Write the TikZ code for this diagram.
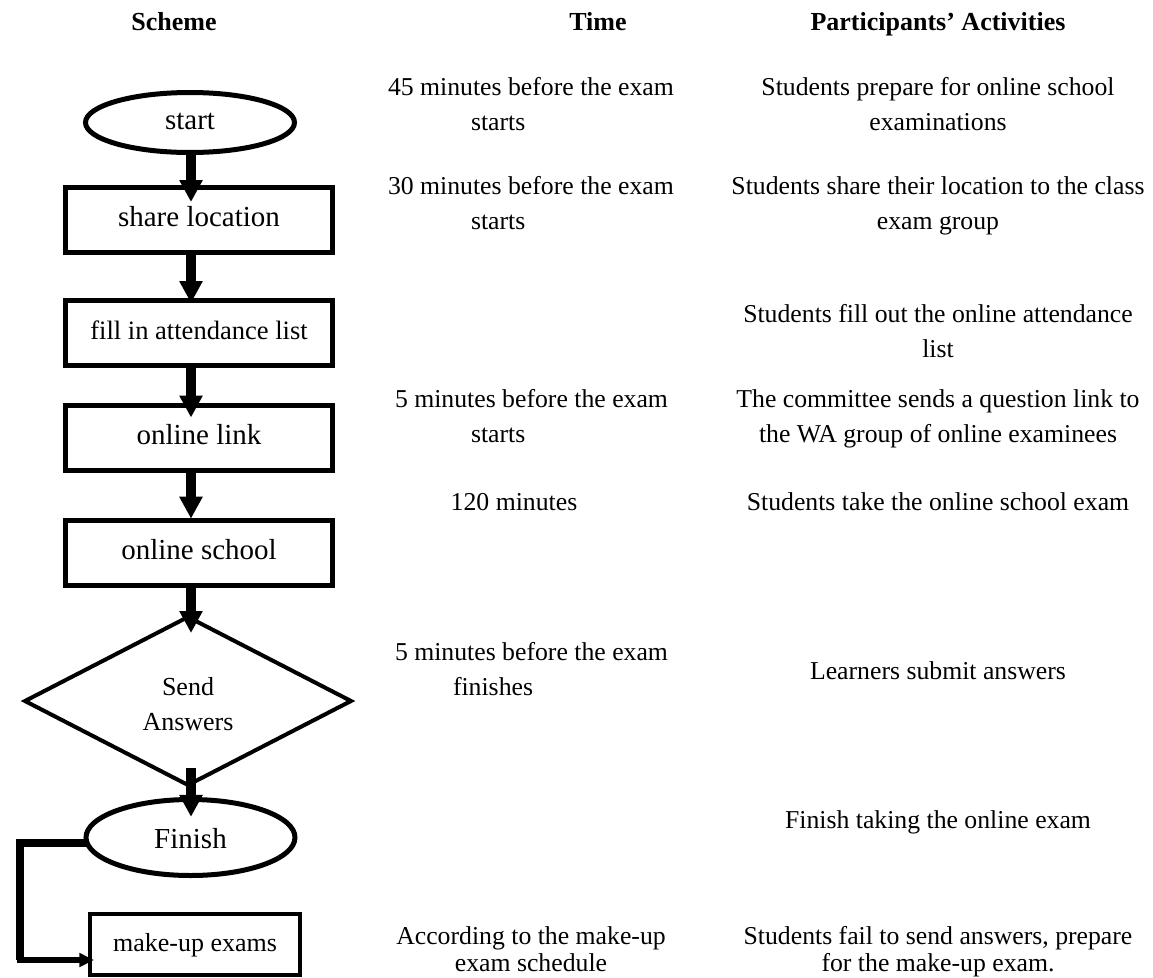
\documentclass[tikz,border=0pt]{standalone}
\usepackage{fontspec}
\setmainfont{Liberation Serif}
\usetikzlibrary{shapes.geometric,arrows.meta}
\begin{document}
\begin{tikzpicture}[x=0.75pt,y=-0.75pt,
  every node/.style={inner sep=0pt,outer sep=0pt},
  hdr/.style={font=\fontsize{19.5pt}{24pt}\selectfont\bfseries,anchor=base},
  col/.style={font=\fontsize{19.3pt}{26.25pt}\selectfont,anchor=base,align=center},
  colL/.style={font=\fontsize{19.3pt}{26.25pt}\selectfont,anchor=base west,align=left},
  colT/.style={font=\fontsize{19.3pt}{20.25pt}\selectfont,anchor=base,align=center},
  flowbox/.style={draw,line width=3.75pt,rectangle,minimum width=200.25pt,minimum height=48.75pt,
    font=\fontsize{21.75pt}{26pt}\selectfont,text height=15.2pt,text depth=4.8pt},
  term/.style={draw,line width=3.75pt,ellipse,minimum width=156.75pt,
    font=\fontsize{21.75pt}{26pt}\selectfont,text height=15.2pt,text depth=4.8pt},
  decision/.style={draw,line width=3pt,diamond,minimum width=244.5pt,minimum height=126pt},
  dectext/.style={font=\fontsize{19.5pt}{26.25pt}\selectfont,align=center,anchor=base},
  flowarrow/.style={line width=7pt,-{Triangle[width=16.5pt,length=16.5pt]}},
  loopline/.style={line width=6.5pt,line join=miter},
  looparrow/.style={line width=4.5pt,-{Triangle[width=10pt,length=11pt]}}
]
\useasboundingbox (0,0) rectangle (1153,978);

% headers
\node[hdr] (h1) at (174,30) {Scheme};
\node[hdr] (h2) at (598,30) {Time};
\node[hdr] (h3) at (938,30) {Participants’ Activities};

% flow shapes
\node[term,minimum height=45pt] (start) at (190,122.5) {start};
\node[flowbox] (share) at (199,220) {share location};
\node[flowbox,font=\fontsize{19.9pt}{24pt}\selectfont] (fill) at (199,333) {fill in attendance list};
\node[flowbox] (link) at (199,437.5) {online link};
\node[flowbox] (school) at (199,552.5) {online school};
\node[decision] (send) at (188,701) {};
\node[dectext] (sendtext) at ([yshift=-21.75pt]send.center) {Send\\Answers};
\node[term,minimum height=57pt,text height=17pt,text depth=0pt] (finish) at (190.5,837.5) {Finish};
\node[flowbox,line width=3pt,minimum width=157.5pt,minimum height=45.75pt,
  font=\fontsize{19.5pt}{24pt}\selectfont] (makeup) at (195,944.5) {make-up exams};

% arrows
\coordinate (ax) at (191,0);
\draw[flowarrow,shorten >=-10.9pt] (ax |- start.south) -- (ax |- share.north);
\draw[flowarrow,shorten >=-1.9pt] (ax |- share.south) -- (ax |- fill.north);
\draw[flowarrow,shorten >=-9.4pt] (ax |- fill.south) -- (ax |- link.north);
\draw[flowarrow,shorten >=1pt] (ax |- link.south) -- (ax |- school.north);
\draw[flowarrow,shorten >=-12pt] (ax |- school.south) -- (ax |- send.north);
\draw[flowarrow,shorten <=-12.75pt,shorten >=-13pt] (ax |- send.south) -- (ax |- finish.north);

% finish -> make-up connector
\coordinate (bend) at (20,960);
\draw[loopline] ([yshift=-4pt]finish.west) -| (bend);
\draw[looparrow,shorten >=-3pt] ([xshift=-2pt]bend) -- (bend -| makeup.west);

% time column (anchor = baseline of the last line)
\node[colL] (t1) at (388,130) {45 minutes before the exam\\\hspace*{62.25pt}starts};
\node[colL] (t2) at (388,229) {30 minutes before the exam\\\hspace*{62.25pt}starts};
\node[colL] (t4) at (395,442) {5 minutes before the exam\\\hspace*{57pt}starts};
\node[col] (t5) at (514,510) {120 minutes};
\node[colL] (t6) at (395,695) {5 minutes before the exam\\\hspace*{43.5pt}finishes};
\node[colT] (t8) at (531,971) {According to the make-up\\exam schedule};

% participants column
\node[col] (p1) at (938,130) {Students prepare for online school\\examinations};
\node[col] (p2) at (938,229) {Students share their location to the class\\exam group};
\node[col] (p3) at (938,357) {Students fill out the online attendance\\list};
\node[col] (p4) at (938,442) {The committee sends a question link to\\the WA group of online examinees};
\node[col] (p5) at (938,510) {Students take the online school exam};
\node[col] (p6) at (938,679) {Learners submit answers};
\node[col] (p7) at (938,828) {Finish taking the online exam};
\node[colT] (p8) at (938,971) {Students fail to send answers, prepare\\for the make-up exam.};
\end{tikzpicture}
\end{document}
